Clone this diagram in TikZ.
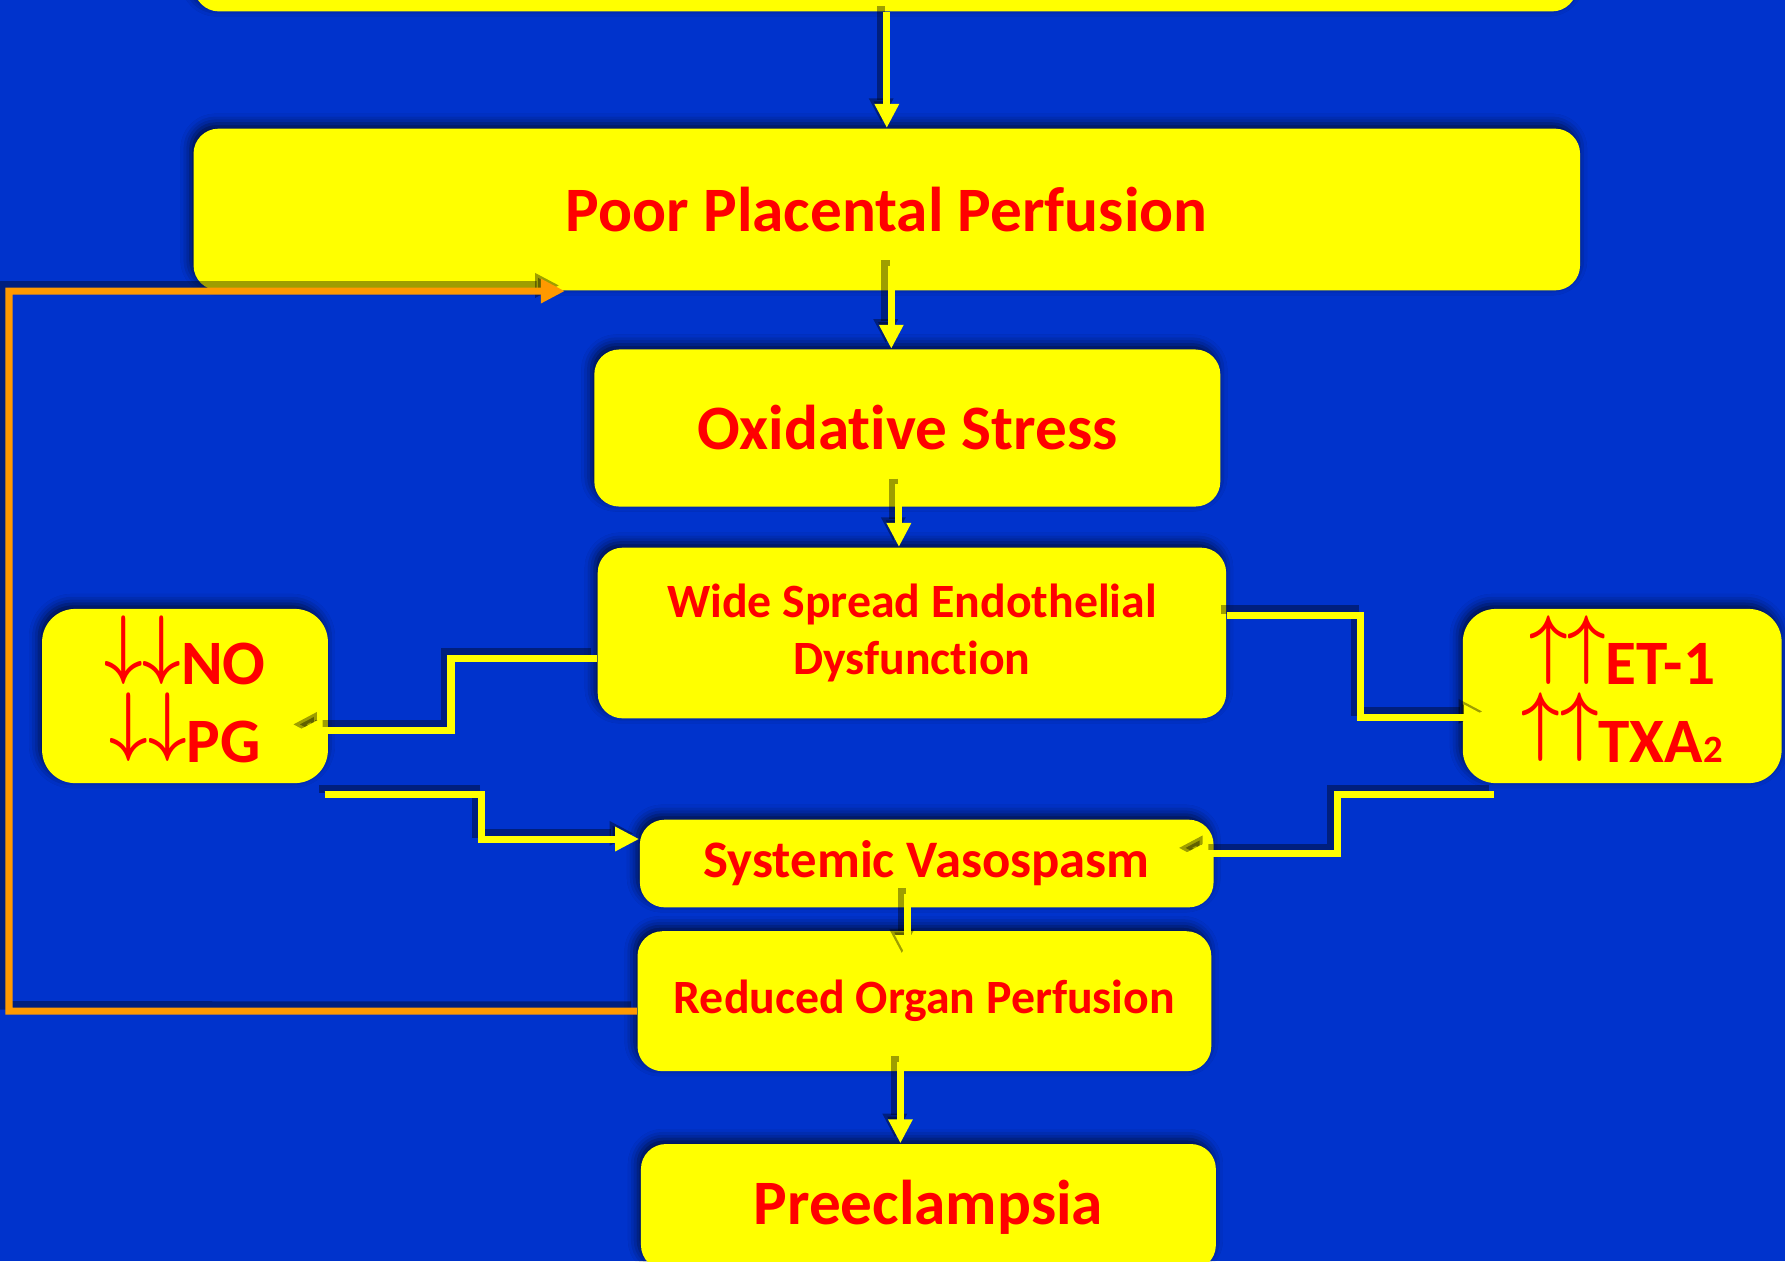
\documentclass[tikz,border=0pt]{standalone}
\usepackage{amsmath}
\usepackage{fontspec}
\setmainfont{Carlito}[Ligatures=CommonOff]
\usepackage{tikz}
\usetikzlibrary{arrows.meta,calc,positioning,shadows.blur}

\definecolor{slideblue}{RGB}{0,51,204}
\definecolor{boxyellow}{RGB}{255,255,0}
\definecolor{txtred}{RGB}{255,0,0}
\definecolor{fborange}{RGB}{255,153,0}

\newcommand{\dnarr}{\raisebox{4.3pt}{\scalebox{1.9}[2.2]{\fontsize{10}{10}\selectfont$\boldsymbol{\downarrow}$}}}
\newcommand{\uparr}{\raisebox{4.3pt}{\scalebox{1.9}[2.2]{\fontsize{10}{10}\selectfont$\boldsymbol{\uparrow}$}}}
\newcommand{\lowstrut}{\rule[-4pt]{0pt}{0pt}}

\begin{document}
\begin{tikzpicture}[
  stage/.style={fill=boxyellow, rounded corners=0.25cm, inner sep=0pt, align=center, text=txtred,
    blur shadow={shadow xshift=-0.03cm, shadow yshift=0.05cm, shadow blur radius=0.1cm, shadow opacity=70}},
  big/.style={font=\bfseries\fontsize{18}{20}\selectfont},
  small/.style={font=\bfseries\fontsize{13.6}{16.2}\selectfont},
  dark/.style={preaction={draw=black, opacity=0.38, line width=2.4pt, transform canvas={xshift=-1.6pt,yshift=1.6pt}}},
  link/.style={draw=boxyellow, line width=2pt, -{Triangle[length=0.24cm,width=0.23cm]}, dark},
  fback/.style={draw=fborange, line width=2pt, -{Triangle[length=0.24cm,width=0.23cm]}, dark}
]
\fill[slideblue] (0,0) rectangle (17.85,-12.61);
\useasboundingbox (0,0) rectangle (17.85,-12.61);

% main column
\node[stage, minimum width=13.83cm, minimum height=1cm] (top) at (8.855,0.386) {};
\node[stage, big, minimum width=13.865cm, minimum height=1.617cm] (ppp) at (8.868,-2.095) {Poor Placental Perfusion};
\node[stage, big, minimum width=6.26cm, minimum height=1.571cm] (os) at (9.073,-4.28) {Oxidative Stress};
\node[stage, small, minimum width=6.284cm, minimum height=1.707cm] (wsed) at (9.119,-6.33) {Wide Spread Endothelial\\Dysfunction};
\node[stage, font=\bfseries\fontsize{15}{17}\selectfont, minimum width=5.737cm, minimum height=0.877cm] (sv) at (9.267,-8.635) {Systemic Vasospasm};
\node[stage, small, minimum width=5.738cm, minimum height=1.4cm] (rop) at (9.244,-10.012) {Reduced Organ Perfusion};
\node[stage, big, minimum width=5.749cm, minimum height=1.26cm] (pre) at (9.284,-12.07) {Preeclampsia};

% side boxes
\node[stage, rounded corners=0.33cm, font=\bfseries\fontsize{18}{22}\selectfont, minimum width=2.858cm, minimum height=1.742cm] (nopg) at (1.85,-6.96) {\dnarr\dnarr NO\\\dnarr\dnarr PG\lowstrut};
\node[stage, rounded corners=0.33cm, font=\bfseries\fontsize{18}{22}\selectfont, minimum width=3.188cm, minimum height=1.742cm] (etx) at (16.222,-6.96) {\uparr\uparr ET-1\\\uparr\uparr TXA{\fontsize{11}{11}\selectfont 2}\lowstrut};

% down the column
\draw[link] (top.south -| ppp.north) -- (ppp.north);
\draw[link, shorten <=-0.25cm] ([xshift=-0.16cm]os.north |- ppp.south) -- ([xshift=-0.16cm]os.north);
\draw[link, shorten <=-0.23cm] ([xshift=-0.13cm]wsed.north |- os.south) -- ([xshift=-0.13cm]wsed.north);
\draw[link, shorten <=-0.14cm, shorten >=-0.285cm] ([xshift=-0.17cm]rop.north |- sv.south) -- ([xshift=-0.17cm]rop.north);
\draw[link, shorten <=-0.1cm] ([xshift=-0.28cm]pre.north |- rop.south) -- ([xshift=-0.28cm]pre.north);

% out to the sides and back
\draw[link, shorten >=-0.3cm] ([yshift=-0.25cm]wsed.west) -- ++(-1.46,0) |- ([yshift=-0.34cm]nopg.east);
\draw[link, shorten >=-0.26cm] ([yshift=0.18cm]wsed.east) -- ++(1.34,0) |- ([yshift=-0.21cm]etx.west);
\draw[link] ([xshift=-0.04cm,yshift=-0.11cm]nopg.south east) -- ++(1.57,0) |- ([yshift=0.245cm]sv.west);
\draw[link, shorten >=-0.3cm] ([xshift=0.32cm,yshift=-0.11cm]etx.south west) -- ++(-1.57,0) |- ([yshift=0.1cm]sv.east);

% feedback loop
\coordinate (fbcorner) at (0.09,-10.11);
\draw[fback] ([yshift=-0.1cm]rop.west) -- (fbcorner) |- ([xshift=3.72cm]ppp.south west);
\end{tikzpicture}
\end{document}
